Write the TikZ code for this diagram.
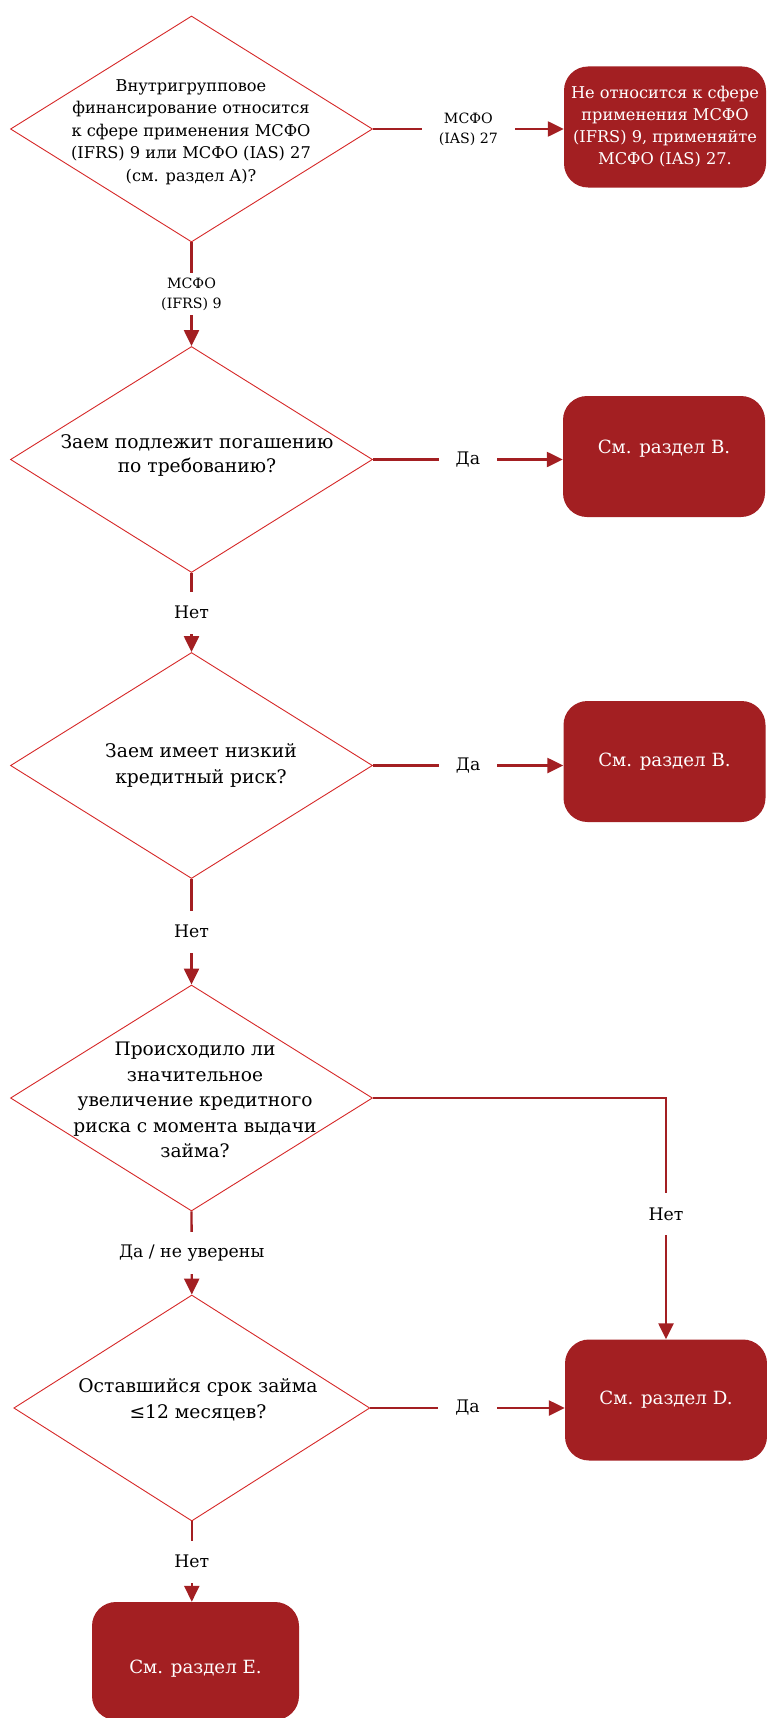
\documentclass[tikz,border=0pt]{standalone}
\usepackage{fontspec}
\setmainfont{DejaVu Serif}
\usetikzlibrary{arrows.meta,shapes.geometric,calc}
\definecolor{boxred}{RGB}{163,31,34}
\definecolor{edgered}{RGB}{214,40,40}

\begin{document}
\begin{tikzpicture}[
  x=1pt, y=-1pt,
  decision/.style={diamond, draw=edgered, line width=0.9pt, fill=white, inner sep=0pt,
    minimum width=362pt, minimum height=226pt},
  qtext/.style={align=center, inner sep=0pt},
  outcome/.style={rounded corners=24pt, fill=boxred, text=white, align=center,
    minimum width=202pt, minimum height=121pt, font=\fontsize{18.2}{22}\selectfont},
  arr/.style={-{Triangle[length=16pt,width=15pt]}, line width=2.4pt, boxred},
  lbl/.style={fill=white, text=black, inner xsep=17pt, inner ysep=3pt, minimum height=42pt,
    align=center, font=\fontsize{14.2}{20}\selectfont},
  ans/.style={lbl, font=\fontsize{17.3}{20}\selectfont},
]
\useasboundingbox (0,0) rectangle (766,1718);

% questions
\node[decision] (q1) at (191.5,129) {};
\node[qtext, font=\fontsize{16.2}{22.5}\selectfont] (q1t) at (191,132)
  {Внутригрупповое\\финансирование относится\\к сфере применения МСФО\\(IFRS) 9 или МСФО (IAS) 27\\(см. раздел A)?};
\node[decision] (q2) at (191.5,459.5) {};
\node[qtext, font=\fontsize{18.7}{24}\selectfont] (q2t) at (197,456)
  {Заем подлежит погашению\\по требованию?};
\node[decision] (q3) at (191.5,765.5) {};
\node[qtext, font=\fontsize{18.7}{26}\selectfont] (q3t) at (201,765)
  {Заем имеет низкий\\кредитный риск?};
\node[decision] (q4) at (191.5,1098) {};
\node[qtext, font=\fontsize{18.6}{25.6}\selectfont] (q4t) at (195,1100)
  {Происходило ли\\значительное\\увеличение кредитного\\риска с момента выдачи\\займа?};
\node[decision, minimum width=356pt] (q5) at (191.8,1408) {};
\node[qtext, font=\fontsize{18.7}{26}\selectfont] (q5t) at (198,1400)
  {Оставшийся срок займа\\≤12 месяцев?};

% outcomes
\node[outcome, font=\fontsize{16.2}{22}\selectfont] (r1) at (665,127)
  {Не относится к сфере\\применения МСФО\\(IFRS) 9, применяйте\\МСФО (IAS) 27.};
\node[outcome, text depth=20pt] (r2) at (664,456.5) {См. раздел B.};
\node[outcome] (r3) at (664.5,761.5) {См. раздел B.};
\node[outcome] (rD) at (666,1400) {См. раздел D.};
\node[outcome, minimum width=207pt, minimum height=118pt, text height=29pt] (rE) at (195.5,1661) {См. раздел E.};

% connectors
\draw[arr] (q1.east) -- node[lbl] {МСФО\\(IAS) 27} (q1.east -| r1.west);
\draw[arr] (q1.south) -- node[lbl] {МСФО\\(IFRS) 9} (q2.north);
\draw[arr] (q2.east) -- node[ans] {Да} (q2.east -| r2.west);
\draw[arr] (q2.south) -- node[ans] {Нет} (q3.north);
\draw[arr] (q3.east) -- node[ans] {Да} (q3.east -| r3.west);
\draw[arr] (q3.south) -- node[ans] {Нет} (q4.north);
\draw[arr] (q4.east) -| node[ans, pos=0.74] {Нет} (rD.north);
\draw[arr] (q4.south) -- node[ans] {Да / не уверены} (q5.north);
\draw[arr] (q5.east) -- node[ans] {Да} (q5.east -| rD.west);
\draw[arr] (q5.south) -- node[ans] {Нет} (q5.south |- rE.north);
\end{tikzpicture}
\end{document}
